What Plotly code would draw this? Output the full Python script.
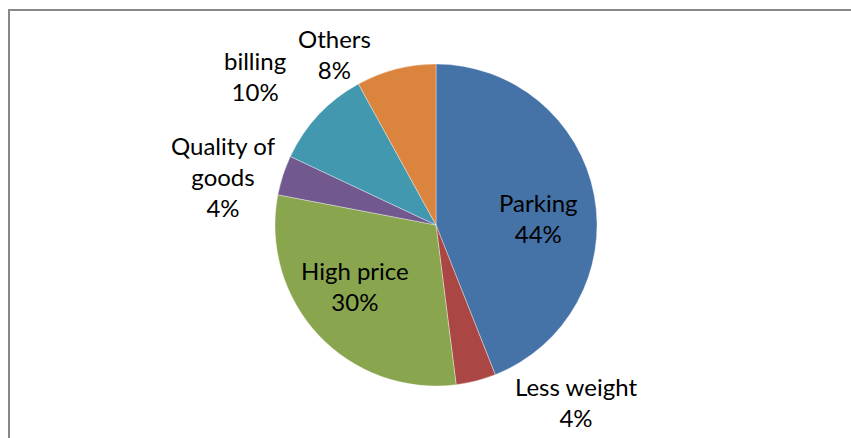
import plotly.graph_objects as go

# Reasons given, in clockwise order from 12 o'clock
categories = ["Parking", "Less weight", "High price", "Quality of goods", "billing", "Others"]
shares = [44, 4, 30, 4, 10, 8]
# how each category label is broken onto lines
label_lines = ["Parking", "Less weight", "High price", "Quality of<br>goods", "billing", "Others"]

colors = ["#4572A7", "#AA4643", "#89A54E", "#71588F", "#4198AF", "#DB843D"]

W, H = 851, 438
M_TOP, M_BOT = 64, 52
PLOT_H = H - M_TOP - M_BOT
CX, R = 436, 161

# label anchor points (pixels) for each slice's label block
label_px = [(538, 218), (576, 402), (355, 286), (223, 176), (255, 76), (334, 54)]

total = sum(shares)

fig = go.Figure(
    go.Pie(
        labels=categories,
        values=shares,
        sort=False,
        direction="clockwise",
        rotation=0,
        marker=dict(colors=colors, line=dict(color="rgba(255,255,255,0.6)", width=0.6)),
        textinfo="none",
        hoverinfo="label+percent",
        showlegend=False,
        domain=dict(x=[(CX - R) / W, (CX + R) / W], y=[0, 1]),
    )
)

annotations = []
for lab, val, (px, py) in zip(label_lines, shares, label_px):
    pct = round(val / total * 100)
    annotations.append(
        dict(
            text=f"{lab}<br>{pct}%",
            x=px / W,
            y=(H - M_BOT - py) / PLOT_H,
            xref="paper",
            yref="paper",
            showarrow=False,
            xanchor="center",
            yanchor="middle",
            align="center",
            font=dict(family="Lato", size=24, color="#000000"),
        )
    )

# chart-area frame (left and top edges visible)
frame = dict(
    type="rect",
    xref="paper",
    yref="paper",
    x0=9 / W,
    x1=1.5,
    y0=-1,
    y1=(H - M_BOT - 10) / PLOT_H,
    line=dict(color="#888888", width=2),
    fillcolor="rgba(0,0,0,0)",
    layer="below",
)

fig.update_layout(
    width=W,
    height=H,
    margin=dict(l=0, r=0, t=M_TOP, b=M_BOT),
    paper_bgcolor="white",
    plot_bgcolor="white",
    annotations=annotations,
    shapes=[frame],
)

fig.write_html("out.html")
